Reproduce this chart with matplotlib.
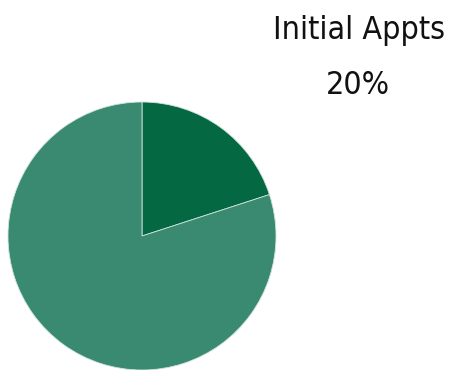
import matplotlib
matplotlib.use("Agg")
import matplotlib.pyplot as plt
from matplotlib import font_manager

# appointment mix
labels = ["Initial Appts", "Other Appts"]
shares = [20, 80]
colors = ["#046843", "#398a70"]

W, H = 449, 370
fig = plt.figure(figsize=(W / 100, H / 100), dpi=100)

ax = fig.add_axes([8 / W, 0, 268 / W, 268 / H])
ax.pie(shares, colors=colors, startangle=90, counterclock=False, radius=1.0,
       wedgeprops=dict(edgecolor="#cfe3db", linewidth=0.6))
ax.set_xlim(-1, 1)
ax.set_ylim(-1, 1)
ax.set_aspect("equal")
ax.axis("off")

# pick a narrow face if one is around
names = {f.name for f in font_manager.fontManager.ttflist}
narrow = [n for n in ["Liberation Sans Narrow", "DejaVu Sans Condensed"] if n in names]
fam = narrow + ["DejaVu Sans"]
size = 23

fig.text(359 / W, 1 - 31 / H, labels[0], ha="center", va="center",
         fontsize=size, family=fam, stretch="condensed", color="#111111")
fig.text(358 / W, 1 - 85 / H, f"{shares[0]}%", ha="center", va="center",
         fontsize=size, family=fam, stretch="condensed", color="#111111")

fig.savefig("out.png", dpi=100)
